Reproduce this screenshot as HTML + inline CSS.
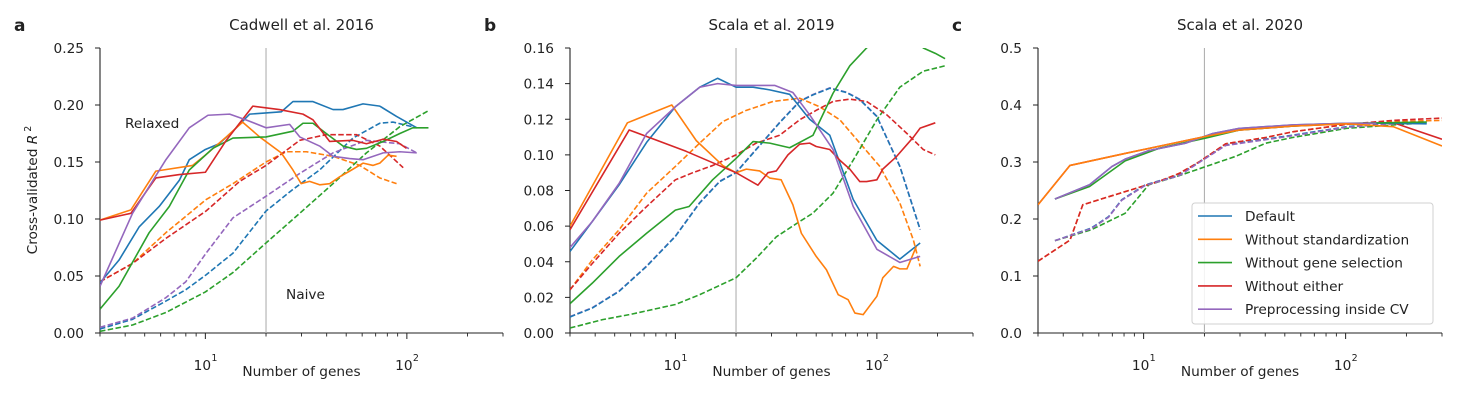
<!DOCTYPE html>
<html><head><meta charset="utf-8">
<style>
html,body{margin:0;padding:0;background:#fff;}
svg{display:block;font-family:"DejaVu Sans","Liberation Sans",sans-serif;}
</style></head>
<body>
<svg id="chart" width="1460" height="400" viewBox="0 0 1460 400" xmlns="http://www.w3.org/2000/svg"></svg>
<script>
// ---------- data (x = number of genes, y = cross-validated R^2) ----------
const seriesNames = ["Default","Without standardization","Without gene selection","Without either","Preprocessing inside CV"];
const colors = ["#1f77b4","#ff7f0e","#2ca02c","#d62728","#9467bd"];

// Panel a: Cadwell et al. 2016
const aBlueSolidX = [3,3.73,4.69,5.9,7.43,8.32,10,11.7,13.7,16.6,20,23.8,27.2,34.2,43,48.2,60.6,73.4,88.9,112];
const aBlueSolidY = [.044,.064,.093,.111,.134,.152,.161,.166,.177,.192,.193,.194,.203,.203,.196,.196,.201,.199,.190,.180];
const aOrangeSolidX = [3,4.27,5.68,8.65,10,12.7,15.3,18.6,23.8,27.2,29.9,32.9,36.9,41.4,46.4,52,60.6,68,73.4,80.7,88.9];
const aOrangeSolidY = [.099,.108,.142,.147,.156,.172,.185,.172,.158,.143,.131,.133,.130,.131,.137,.142,.149,.147,.149,.156,.155];
const aGreenSolidX = [3,3.73,5.26,6.62,8.32,10.9,13.7,20,27.2,30.5,34.2,39.8,48.2,56.2,63,76.3,92.3,107,128];
const aGreenSolidY = [.021,.041,.088,.111,.143,.162,.171,.172,.177,.184,.184,.175,.164,.161,.162,.168,.175,.180,.180];
const aRedSolidX = [3,4.27,5.68,7.43,10,12.7,17.2,23.3,30.5,34.2,41.4,54,63,76.3,88.9,99.6];
const aRedSolidY = [.099,.105,.136,.139,.141,.169,.199,.196,.192,.187,.168,.169,.166,.170,.168,.162];
const aPurpleSolidX = [3,4.35,6.37,8.32,10.3,13.2,15.9,20,26.2,29.4,36.9,43,52,60.6,76.3,92.3,112];
const aPurpleSolidY = [.041,.105,.152,.180,.191,.192,.187,.180,.183,.172,.164,.155,.153,.152,.158,.159,.158];
const aBlueDashX = [3,4.35,6.37,8.0,10.08,13.7,20,27.2,36.9,54,73.4,85.5,112];
const aBlueDashY = [.0035,.012,.028,.038,.051,.070,.107,.126,.143,.171,.184,.185,.180];
const aOrangeDashX = [3,4.35,6.37,10.08,13.7,20,25.2,31.7,43,58.4,73.4,88.9];
const aOrangeDashY = [.045,.061,.088,.117,.131,.150,.159,.159,.155,.147,.136,.131];
const aGreenDashX = [3,4.35,6.37,10,13.7,20,29.4,43,63,92.3,128];
const aGreenDashY = [.0015,.007,.018,.036,.053,.079,.105,.131,.158,.181,.195];
const aRedDashX = [3,4.35,6.37,10.08,14.8,20,29.4,39.8,56.2,73.4,95.9];
const aRedDashY = [.045,.061,.083,.107,.133,.147,.169,.174,.174,.164,.145];
const aPurpleDashX = [3,4.35,6.37,8.0,10.08,13.7,20,29.4,43,63,92.3,112];
const aPurpleDashY = [.005,.013,.031,.045,.070,.101,.120,.140,.158,.169,.166,.158];

// Panel b: Scala et al. 2019
const bBlueSolidX = [3,3.87,5.26,7.2,10,13.2,16.2,20,24.3,29.4,36.9,46.4,58.4,76.3,100,130,164];
const bBlueSolidY = [.0458,.0626,.0832,.107,.127,.138,.143,.138,.138,.1365,.134,.120,.111,.075,.052,.0415,.0505];
const bOrangeSolidX = [3,5.78,9.6,12.7,17.2,20,22.5,26.2,29.4,33.5,38.3,42.2,50,56.2,64.3,72,77.8,85.5,100,107,121,130,141,157];
const bOrangeSolidY = [.060,.118,.128,.108,.094,.090,.092,.091,.087,.086,.072,.056,.043,.0355,.0215,.0187,.0112,.0103,.0206,.031,.0374,.036,.036,.0486];
const bGreenSolidX = [3,3.87,5.26,7.2,10,11.7,15.3,20,24.3,29.4,36.9,48.2,60.6,73.4,88.9,120,150,170,195,218];
const bGreenSolidY = [.0165,.028,.043,.056,.069,.071,.086,.098,.1075,.1066,.104,.111,.1346,.150,.160,.172,.168,.160,.157,.154];
const bRedSolidX = [3,5.9,11.3,20,25.7,28.8,31.7,36.2,41.4,46.4,50,58.4,65.5,73.4,82.3,88.9,100,107,125,152,164,195];
const bRedSolidY = [.058,.114,.102,.090,.083,.090,.091,.100,.106,.1066,.1047,.103,.097,.092,.085,.085,.086,.092,.099,.110,.115,.118];
const bPurpleSolidX = [3,3.87,5.26,7.2,10,13.2,16.2,20,24.3,31.1,38.3,46.4,60.6,76.3,100,130,164];
const bPurpleSolidY = [.048,.0626,.084,.112,.127,.138,.140,.139,.139,.139,.135,.1225,.103,.071,.047,.0396,.043];
const bBlueDashX = [3,3.87,5.26,7.2,10,13.2,16.6,20,25.2,32.9,41.4,48.2,58.4,70.7,82.3,100,130,164];
const bBlueDashY = [.009,.014,.0234,.0374,.0542,.073,.085,.090,.103,.118,.130,.1337,.1374,.135,.131,.1215,.0935,.058];
const bOrangeDashX = [3,3.87,5.26,7.2,10,13.2,17.2,22.5,30.5,41.4,52,65.5,82.3,103.5,130,152,164];
const bOrangeDashY = [.0243,.041,.058,.0785,.0935,.1066,.1187,.125,.130,.1318,.127,.1197,.1066,.0935,.073,.052,.0374];
const bGreenDashX = [3,4.35,5.9,10,13.2,20,25.2,31.7,41.4,48.2,60.6,76.3,100,130,170,218];
const bGreenDashY = [.0028,.0075,.0103,.016,.0215,.031,.042,.054,.0626,.0673,.0785,.097,.1197,.138,.147,.150];
const bRedDashX = [3,3.87,5.26,7.2,10,12.2,15.3,20,25.2,32.9,41.4,50,60.6,73.4,88.9,112,141,170,195];
const bRedDashY = [.0243,.039,.056,.071,.086,.090,.094,.100,.1066,.111,.1197,.125,.130,.1313,.130,.1225,.112,.103,.100];
const bPurpleDashX = bBlueDashX;
const bPurpleDashY = [.0092,.0142,.0236,.0376,.0544,.0732,.0852,.0902,.1032,.1182,.1302,.1339,.1376,.1352,.1312,.1217,.0937,.0582];

// Panel c: Scala et al. 2020
const cBlueSolidX = [3.64,5.4,6.96,8.1,10.6,16.1,22,29.7,54.7,101,166,252];
const cBlueSolidY = [.235,.260,.292,.305,.320,.333,.350,.359,.365,.368,.368,.367];
const cOrangeSolidX = [3,4.32,8.1,20.3,29.7,54.7,101,172,300];
const cOrangeSolidY = [.225,.294,.315,.345,.356,.363,.367,.362,.328];
const cGreenSolidX = [3.64,5.4,8.1,11.9,20.3,29.7,54.7,101,172,252];
const cGreenSolidY = [.235,.257,.302,.324,.342,.356,.363,.368,.369,.370];
const cRedSolidX = [3,4.32,8.1,20.3,29.7,54.7,101,172,300];
const cRedSolidY = [.225,.294,.315,.345,.356,.363,.367,.369,.340];
const cPurpleSolidX = [3.64,5.4,6.96,8.1,10.6,16.1,22,29.7,54.7,101,142];
const cPurpleSolidY = [.235,.260,.292,.305,.320,.333,.350,.359,.365,.368,.368];
const cBlueDashX = [3.64,5.5,6.7,7.8,10.2,15,18.8,25.5,54.7,101,172,252];
const cBlueDashY = [.162,.184,.204,.234,.260,.277,.300,.330,.347,.362,.368,.369];
const cOrangeDashX = [3,4.32,5.0,8.1,11.9,15,18.8,25.5,40.2,54.7,101,172,300];
const cOrangeDashY = [.126,.163,.225,.248,.266,.280,.300,.332,.343,.353,.366,.371,.373];
const cGreenDashX = [3.64,5.5,8.1,10.6,15,20.3,28.6,40.2,54.7,101,172,252];
const cGreenDashY = [.162,.181,.210,.260,.276,.292,.310,.333,.343,.359,.365,.369];
const cRedDashX = cOrangeDashX;
const cRedDashY = [.126,.163,.225,.248,.266,.280,.300,.332,.343,.353,.366,.373,.377];
const cPurpleDashX = cBlueDashX;
const cPurpleDashY = [.162,.183,.203,.233,.259,.276,.299,.329,.346,.361,.367,.368];

const aYTicks = ["0.00","0.05","0.10","0.15","0.20","0.25"];
const bYTicks = ["0.00","0.02","0.04","0.06","0.08","0.10","0.12","0.14","0.16"];
const cYTicks = ["0.0","0.1","0.2","0.3","0.4","0.5"];
const xDomain = [3,300];
const minorTicks = [3,4,5,6,7,8,9,20,30,40,50,60,70,80,90,200,300];
const majorTicks = [10,100];
const vlineX = 20;

// ---------- drawing ----------
const NS = "http://www.w3.org/2000/svg";
const svg = document.getElementById('chart');
function mk(tag, attrs, parent) {
  const e = document.createElementNS(NS, tag);
  for (const k in attrs) e.setAttribute(k, attrs[k]);
  (parent || svg).appendChild(e);
  return e;
}

const panels = [
  {id:'a', title:'Cadwell et al. 2016', left:100, right:503, top:48, bottom:333, ymax:0.25, yticks:aYTicks,
   solid:[[aBlueSolidX,aBlueSolidY],[aOrangeSolidX,aOrangeSolidY],[aGreenSolidX,aGreenSolidY],[aRedSolidX,aRedSolidY],[aPurpleSolidX,aPurpleSolidY]],
   dash:[[aBlueDashX,aBlueDashY],[aOrangeDashX,aOrangeDashY],[aGreenDashX,aGreenDashY],[aRedDashX,aRedDashY],[aPurpleDashX,aPurpleDashY]]},
  {id:'b', title:'Scala et al. 2019', left:570, right:973, top:48, bottom:333, ymax:0.16, yticks:bYTicks,
   solid:[[bBlueSolidX,bBlueSolidY],[bOrangeSolidX,bOrangeSolidY],[bGreenSolidX,bGreenSolidY],[bRedSolidX,bRedSolidY],[bPurpleSolidX,bPurpleSolidY]],
   dash:[[bPurpleDashX,bPurpleDashY],[bOrangeDashX,bOrangeDashY],[bGreenDashX,bGreenDashY],[bRedDashX,bRedDashY],[bBlueDashX,bBlueDashY]]},
  {id:'c', title:'Scala et al. 2020', left:1038, right:1442, top:48, bottom:333, ymax:0.5, yticks:cYTicks,
   solid:[[cBlueSolidX,cBlueSolidY],[cOrangeSolidX,cOrangeSolidY],[cGreenSolidX,cGreenSolidY],[cRedSolidX,cRedSolidY],[cPurpleSolidX,cPurpleSolidY]],
   dash:[[cBlueDashX,cBlueDashY],[cOrangeDashX,cOrangeDashY],[cGreenDashX,cGreenDashY],[cRedDashX,cRedDashY],[cPurpleDashX,cPurpleDashY]]}
];
const dashColorIdx = {a:[0,1,2,3,4], b:[4,1,2,3,0], c:[0,1,2,3,4]};
const solidOrder = {a:[0,1,2,3,4], b:[0,1,2,3,4], c:[3,0,2,4,1]};

panels.forEach(p => {
  const lx0 = Math.log10(xDomain[0]), lx1 = Math.log10(xDomain[1]);
  const X = v => p.left + (Math.log10(v) - lx0) / (lx1 - lx0) * (p.right - p.left);
  const Y = v => p.bottom - v / p.ymax * (p.bottom - p.top);
  const g = mk('g', {});
  
  

  const clipId = 'clip-' + p.id;
  const cp = mk('clipPath', {id: clipId}, g);
  mk('rect', {x:p.left, y:p.top, width:p.right-p.left, height:p.bottom-p.top}, cp);

  const letter = mk('text', {x:p.left - 86, y:31, 'font-size':17, 'font-weight':'bold', fill:'#222'}, g);
  letter.textContent = p.id;
  
  
  const title = mk('text', {x:(p.left+p.right)/2, y:30, 'font-size':15, 'text-anchor':'middle', fill:'#222'}, g);
  title.textContent = p.title;
  
  

  const yAxis = mk('line', {x1:p.left, y1:p.top, x2:p.left, y2:p.bottom, stroke:'#222', 'stroke-width':1.1}, g);
  
  
  const xAxis = mk('line', {x1:p.left, y1:p.bottom, x2:p.right, y2:p.bottom, stroke:'#222', 'stroke-width':1.1}, g);
  
  

  p.yticks.forEach((t) => {
    const v = parseFloat(t);
    const yy = Y(v);
    mk('line', {x1:p.left-5, y1:yy, x2:p.left, y2:yy, stroke:'#222', 'stroke-width':1}, g);
    const tl = mk('text', {x:p.left-16, y:yy+5, 'font-size':13.7, 'text-anchor':'end', fill:'#222'}, g);
    tl.textContent = t;
    
    
  });
  minorTicks.forEach(v => {
    const xx = X(v);
    mk('line', {x1:xx, y1:p.bottom, x2:xx, y2:p.bottom+3.5, stroke:'#222', 'stroke-width':0.9}, g);
  });
  majorTicks.forEach((v, i) => {
    const xx = X(v);
    mk('line', {x1:xx, y1:p.bottom, x2:xx, y2:p.bottom+6, stroke:'#222', 'stroke-width':1}, g);
    const tl = mk('text', {x:xx-3, y:370, 'font-size':13.7, 'text-anchor':'middle', fill:'#222'}, g);
    tl.textContent = '10';
    
    
    const sup = mk('text', {x:xx+6, y:361, 'font-size':9.5, fill:'#222'}, g);
    sup.textContent = String(i + 1);
  });
  const xl = mk('text', {x:(p.left+p.right)/2, y:376, 'font-size':13.7, 'text-anchor':'middle', fill:'#222'}, g);
  xl.textContent = 'Number of genes';
  
  

  const vl = mk('line', {x1:X(vlineX), y1:p.top, x2:X(vlineX), y2:p.bottom, stroke:'#b0b0b0', 'stroke-width':1.1}, g);
  
  

  const lines = mk('g', {'clip-path':'url(#' + clipId + ')'}, g);
  function draw(xs, ys, color, dashed, name) {
    const d = xs.map((x, i) => (i ? 'L' : 'M') + X(x).toFixed(2) + ',' + Y(ys[i]).toFixed(2)).join(' ');
    const path = mk('path', {d:d, fill:'none', stroke:color, 'stroke-width':1.6, 'stroke-linejoin':'round'}, lines);
    if (dashed) path.setAttribute('stroke-dasharray', '5.5,2.4');
    
    
  }
  p.dash.forEach((s, i) => {
    const ci = dashColorIdx[p.id][i];
    draw(s[0], s[1], colors[ci], true, 'naive-' + seriesNames[ci].toLowerCase().replace(/ /g,'-') + '-' + p.id);
  });
  solidOrder[p.id].forEach(i => {
    const s = p.solid[i];
    draw(s[0], s[1], colors[i], false, 'relaxed-' + seriesNames[i].toLowerCase().replace(/ /g,'-') + '-' + p.id);
  });
});

const yt = mk('text', {x:0, y:0, 'font-size':13.7, 'text-anchor':'middle', fill:'#222', transform:'translate(37,190) rotate(-90)'});
yt.innerHTML = 'Cross-validated <tspan font-style="italic">R</tspan><tspan dy="-6" font-size="9.5"> 2</tspan>';



const rel = mk('text', {x:125, y:128, 'font-size':13.7, fill:'#222'});
rel.textContent = 'Relaxed';


const nai = mk('text', {x:286, y:299, 'font-size':13.7, fill:'#222'});
nai.textContent = 'Naive';



const lg = mk('g', {});


mk('rect', {x:1192, y:203, width:241, height:121, rx:3, fill:'#fff', 'fill-opacity':0.85, stroke:'#d0d0d0', 'stroke-width':1}, lg);
seriesNames.forEach((n, i) => {
  const yy = 216 + i * 23.3;
  const e = mk('g', {}, lg);
  
  
  mk('line', {x1:1198, y1:yy, x2:1232, y2:yy, stroke:colors[i], 'stroke-width':1.6}, e);
  const t = mk('text', {x:1245, y:yy+5, 'font-size':13.7, fill:'#222'}, e);
  t.textContent = n;
});
</script>
</body></html>
